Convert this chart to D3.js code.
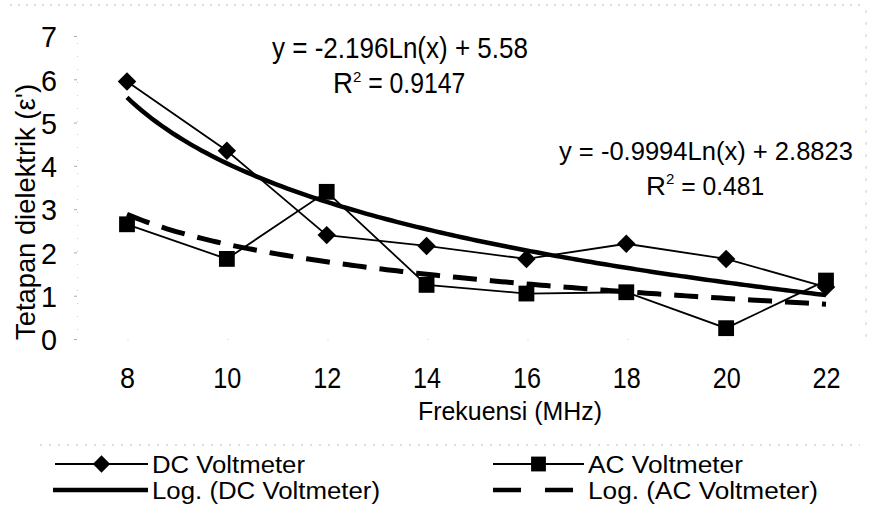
<!DOCTYPE html>
<html><head><meta charset="utf-8">
<script src="https://cdn.jsdelivr.net/npm/d3@7"></script>
<style>
body{margin:0;background:#fff;}
svg text{font-family:"Liberation Sans",Arial,sans-serif;fill:#000;}
</style></head>
<body><svg id="c" width="869" height="512"></svg>
<script>
const categories = ["8","10","12","14","16","18","20","22"];
const dcValues = [5.95, 4.35, 2.4, 2.15, 1.85, 2.2, 1.85, 1.2];
const acValues = [2.65, 1.85, 3.4, 1.25, 1.05, 1.08, 0.25, 1.35];
const dcTrend = [-2.196, 5.58];     // y = a*ln(x) + b
const acTrend = [-0.9994, 2.8823];
const yTicks = [0,1,2,3,4,5,6,7];
const dcEq = ["y = -2.196Ln(x) + 5.58", "0.9147"];
const acEq = ["y = -0.9994Ln(x) + 2.8823", "0.481"];

const svg = d3.select("#c");
const m = {left:77, top:36, bottom:339};
const x = d3.scalePoint().domain(categories).range([127, 826]);
const y = d3.scaleLinear().domain([0,7]).range([m.bottom, m.top]);

// faint scan-like border lines
svg.append("line").attr("x1",10).attr("x2",860).attr("y1",5).attr("y2",5)
  .attr("stroke","#bbb").attr("stroke-dasharray","2,6").attr("stroke-width",1);
svg.append("line").attr("x1",40).attr("x2",860).attr("y1",445).attr("y2",445)
  .attr("stroke","#bbb").attr("stroke-dasharray","2,7").attr("stroke-width",1);
svg.append("line").attr("x1",866).attr("x2",866).attr("y1",10).attr("y2",340)
  .attr("stroke","#ccc").attr("stroke-dasharray","3,9").attr("stroke-width",1);

// y axis
const yAxis = d3.axisLeft(y).tickValues(yTicks).tickFormat(d3.format("d")).tickSize(3).tickPadding(17);
const gy = svg.append("g").attr("transform",`translate(${m.left},0)`).call(yAxis);
gy.attr("font-size",null).attr("font-family",null);
gy.select(".domain").attr("stroke","#ccc").attr("stroke-dasharray","1,12");
gy.selectAll(".tick line").attr("stroke","#aaa");
gy.selectAll("text").attr("font-size",30).attr("fill","#000").attr("dy","0.36em")
  .attr("textLength",16).attr("lengthAdjust","spacingAndGlyphs");

// x axis
const xAxis = d3.axisBottom(x).tickSize(0).tickPadding(28);
const gx = svg.append("g").attr("transform",`translate(0,${m.bottom})`).call(xAxis);
gx.attr("font-size",null).attr("font-family",null);
gx.select(".domain").attr("stroke","#ccc").attr("stroke-dasharray","1,99");
gx.selectAll("text").attr("font-size",29).attr("fill","#000")
  .attr("textLength",d=>d.length===1?15:28).attr("lengthAdjust","spacingAndGlyphs");

// axis titles
svg.append("text").attr("transform","translate(35,212) rotate(-90)")
  .attr("text-anchor","middle").attr("font-size",28)
  .attr("textLength",256).attr("lengthAdjust","spacingAndGlyphs")
  .text("Tetapan dielektrik (ε')");
svg.append("text").attr("x",510).attr("y",420).attr("text-anchor","middle")
  .attr("font-size",26).attr("textLength",184).attr("lengthAdjust","spacingAndGlyphs")
  .text("Frekuensi (MHz)");

// trendlines
const n = categories.length;
const xc = d3.scaleLinear().domain([1, n]).range(x.range());
const steps = d3.range(0, 141).map(k => 1 + (n - 1) * k / 140);
const trendLine = d3.line().x(d=>xc(d[0])).y(d=>y(d[1]));
svg.append("path").datum(steps.map(i=>[i, dcTrend[0]*Math.log(i)+dcTrend[1]]))
  .attr("d",trendLine).attr("fill","none").attr("stroke","#000").attr("stroke-width",4.5);
svg.append("path").datum(steps.map(i=>[i, acTrend[0]*Math.log(i)+acTrend[1]]))
  .attr("d",trendLine).attr("fill","none").attr("stroke","#000").attr("stroke-width",5)
  .attr("stroke-dasharray","24,13");

// series lines
const line = d3.line().x((d,i)=>x(categories[i])).y(d=>y(d));
svg.append("path").datum(dcValues).attr("d",line).attr("fill","none").attr("stroke","#000").attr("stroke-width",1.8);
svg.append("path").datum(acValues).attr("d",line).attr("fill","none").attr("stroke","#000").attr("stroke-width",1.8);

// markers
svg.append("g").selectAll("path").data(dcValues).join("path")
  .attr("d", d3.symbol().type(d3.symbolSquare).size(170))
  .attr("transform",(d,i)=>`translate(${x(categories[i])},${y(d)}) rotate(45)`)
  .attr("fill","#000");
svg.append("g").selectAll("path").data(acValues).join("path")
  .attr("d", d3.symbol().type(d3.symbolSquare).size(250))
  .attr("transform",(d,i)=>`translate(${x(categories[i])},${y(d)})`)
  .attr("fill","#000");

// equations
function eq(xp, yp, lines, w1, w2, fs){
  svg.append("text").attr("x",xp).attr("y",yp).attr("text-anchor","middle")
    .attr("font-size",fs).attr("textLength",w1).attr("lengthAdjust","spacingAndGlyphs").text(lines[0]);
  const t2 = svg.append("text").attr("x",xp - w2/2).attr("y",yp+35)
    .attr("font-size",fs);
  t2.append("tspan").attr("textLength",20).attr("lengthAdjust","spacingAndGlyphs").text("R");
  t2.append("tspan").attr("dy",-11).attr("font-size",15).text("2");
  t2.append("tspan").attr("dy",11).attr("textLength",w2-30).attr("lengthAdjust","spacingAndGlyphs").text(" = " + lines[1]);
}
eq(400, 58, dcEq, 256, 134, 29);
eq(706, 160, acEq, 294, 120, 26);

// legend
function legItem(x0, x1, yy, type, label, tw){
  const g = svg.append("g");
  if(type==="dc"||type==="ac"){
    g.append("line").attr("x1",x0).attr("x2",x1).attr("y1",yy).attr("y2",yy).attr("stroke","#000").attr("stroke-width",1.8);
    const s = g.append("path").attr("fill","#000");
    if(type==="dc") s.attr("d",d3.symbol().type(d3.symbolSquare).size(150)()).attr("transform",`translate(${(x0+x1)/2},${yy}) rotate(45)`);
    else s.attr("d",d3.symbol().type(d3.symbolSquare).size(220)()).attr("transform",`translate(${(x0+x1)/2},${yy})`);
  } else if(type==="dcLog"){
    g.append("line").attr("x1",x0).attr("x2",x1).attr("y1",yy).attr("y2",yy).attr("stroke","#000").attr("stroke-width",4.5);
  } else {
    g.append("line").attr("x1",x0).attr("x2",x1).attr("y1",yy).attr("y2",yy).attr("stroke","#000").attr("stroke-width",4.5).attr("stroke-dasharray","28,24");
  }
  g.append("text").attr("x",x1+4).attr("y",yy+9).attr("font-size",23)
    .attr("textLength",tw).attr("lengthAdjust","spacingAndGlyphs").text(label);
}
legItem(55,148,464,"dc","DC Voltmeter",153);
legItem(53,148,490,"dcLog","Log. (DC Voltmeter)",228);
legItem(493,584,464,"ac","AC Voltmeter",155);
legItem(493,584,490,"acLog","Log. (AC Voltmeter)",230);
</script></body></html>
